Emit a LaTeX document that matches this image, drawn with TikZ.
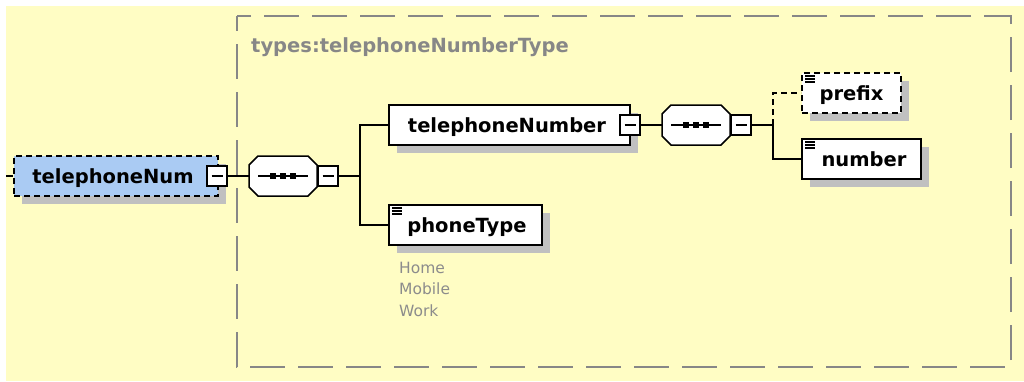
\documentclass[tikz,border=0pt]{standalone}
\usepackage{fontspec}
\setmainfont{DejaVu Sans}
\usetikzlibrary{shadows}
\definecolor{bgyellow}{RGB}{255,253,196}
\definecolor{elemblue}{RGB}{170,203,243}
\definecolor{shadowgray}{RGB}{192,192,192}
\definecolor{typegray}{RGB}{135,135,135}
\definecolor{enumgray}{RGB}{140,140,140}
\newcommand{\elemfont}{\fontsize{19.5}{23}\selectfont\bfseries}
\newcommand{\enumfont}{\fontsize{15.5}{21.5}\selectfont}
\tikzset{
  shd/.style={drop shadow={shadow xshift=8pt,shadow yshift=-8pt,fill=shadowgray,opacity=1}},
  elem/.style={shape=rectangle,draw=black,line width=2pt,fill=white,minimum height=40pt,
    inner sep=0pt,text height=14.2pt,text depth=0pt,font=\elemfont,shd},
  optelem/.style={elem,dash pattern=on 6pt off 4pt},
  seqanchor/.style={shape=rectangle,draw=none,minimum width=68pt,minimum height=40pt,inner sep=0pt},
  seqline/.style={draw=black,line width=1.5pt,fill=white},
  minusbox/.style={shape=rectangle,draw=black,line width=1.5pt,fill=white,minimum width=20pt,
    minimum height=20pt,inner sep=0pt,
    path picture={\draw[line width=1.5pt] ([xshift=-5.5pt]path picture bounding box.center)
      -- ([xshift=5.5pt]path picture bounding box.center);}},
  conn/.style={draw=black,line width=1.5pt},
  optconn/.style={conn,dash pattern=on 6pt off 4pt},
  typelabel/.style={font=\elemfont,text=typegray,inner sep=0pt,anchor=base west},
  enumtext/.style={font=\enumfont,text=enumgray,inner sep=0pt,anchor=base west},
}
% octagon outline around a named node (34 = half width, 20 = half height, 9 = chamfer)
\newcommand{\octpath}[1]{([shift={(-34,-11)}]#1.center) -- ([shift={(-25,-20)}]#1.center)
  -- ([shift={(25,-20)}]#1.center) -- ([shift={(34,-11)}]#1.center)
  -- ([shift={(34,11)}]#1.center) -- ([shift={(25,20)}]#1.center)
  -- ([shift={(-25,20)}]#1.center) -- ([shift={(-34,11)}]#1.center) -- cycle}
\newcommand{\seqshape}[1]{%
  \fill[shadowgray,shift={(8,8)}] \octpath{#1};
  \draw[seqline] \octpath{#1};
  \draw[line width=1.5pt] ([xshift=-25pt]#1.center) -- ([xshift=25pt]#1.center);
  \foreach \dx in {-10,0,10}{\fill ([xshift=\dx pt-3pt,yshift=3pt]#1.center) rectangle ++(6,6);}}
\newcommand{\simpleicon}[1]{%
  \foreach \dy in {4,7,10}{\draw[line width=1.3pt] ([shift={(4,\dy)}]#1.north west) -- ++(10,0);}}
\begin{document}
\begin{tikzpicture}[x=1pt,y=-1pt]
\useasboundingbox (0,0) rectangle (1024,381);
\fill[white] (0,0) rectangle (1024,381);
\fill[bgyellow] (6,6) rectangle (1024,381);
% complex type box
\draw[typegray,line width=1.6pt,dash pattern=on 35pt off 13pt,dash phase=20pt] (237,16) rectangle (1011,367);
\node[typelabel] (tlabel) at (251,52) {types:telephoneNumberType};
% elements
\node[optelem,fill=elemblue,minimum width=204pt] (tn) at (116,176) {\hspace*{-6pt}telephoneNum};
\node[minusbox] (tnm) at (217,176) {};
\node[seqanchor] (s1) at (283,176) {};
\seqshape{s1}
\node[minusbox] (s1m) at (328,176) {};
\node[elem,minimum width=241pt] (tnum) at (509.5,125) {\hspace*{-5pt}telephoneNumber};
\node[minusbox] (tnumm) at (630,125) {};
\node[seqanchor] (s2) at (696,125) {};
\seqshape{s2}
\node[minusbox] (s2m) at (741,125) {};
\node[optelem,minimum width=99pt] (pfx) at (851.5,93) {prefix};
\simpleicon{pfx}
\node[elem,minimum width=119pt] (num) at (861.5,159) {\hspace*{5pt}number};
\simpleicon{num}
\node[elem,minimum width=153pt] (pt) at (465.5,225) {\hspace*{3pt}phoneType};
\simpleicon{pt}
\node[enumtext] (e1) at (399,273) {Home};
\node[enumtext] (e2) at (399,294.5) {Mobile};
\node[enumtext] (e3) at (399,316) {Work};
% connectors
\coordinate (lin) at (6,176);
\coordinate (bus1) at (360,176);
\coordinate (bus2) at (773,125);
\draw[conn] (lin) -- (tn.west);
\draw[conn] (tnm.east) -- (s1.west);
\draw[conn] (s1m.east) -- (bus1);
\draw[conn] (tnum.west) -| (bus1) |- (pt.west);
\draw[conn] (tnumm.east) -- (s2.west);
\draw[conn] (s2m.east) -- (bus2);
\draw[conn] (bus2) |- (num.west);
\draw[optconn] (bus2) |- (pfx.west);
\end{tikzpicture}
\end{document}
